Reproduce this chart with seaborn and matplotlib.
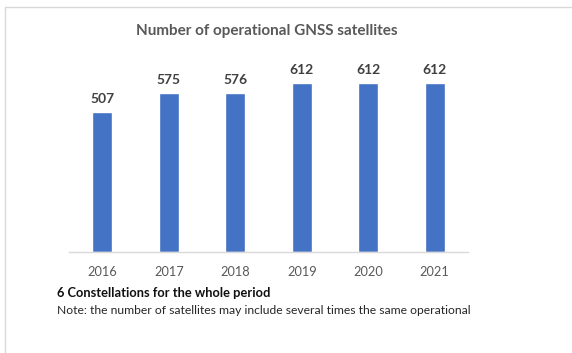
import matplotlib
matplotlib.use("Agg")
import matplotlib.pyplot as plt
from matplotlib.lines import Line2D
import pandas as pd
import seaborn as sns

# data
years = ["2016", "2017", "2018", "2019", "2020", "2021"]
satellites = [507, 575, 576, 612, 612, 612]

df = pd.DataFrame({"year": years, "satellites": satellites})

sns.set_theme(style="white")
plt.rcParams["font.family"] = ["Lato", "DejaVu Sans"]

W, H = 572, 353
fig = plt.figure(figsize=(W / 100, H / 100), dpi=100)
# axes in pixel terms: x 69..468, baseline at y=252
ax = fig.add_axes([69 / W, 1 - 252 / H, (468 - 69) / W, (252 - 40) / H])

sns.barplot(data=df, x="year", y="satellites", color="#4472C4",
            saturation=1, width=0.3, ax=ax)

ax.set_xlim(-0.5, 5.5)
ax.set_ylim(0, 612 * 212 / 169)
ax.set_xlabel("")
ax.set_ylabel("")
ax.set_yticks([])
sns.despine(ax=ax, left=True, top=True, right=True)
ax.spines["bottom"].set_color("#d9d9d9")
ax.spines["bottom"].set_linewidth(1)
ax.tick_params(axis="x", length=0, pad=10, labelsize=9.2, colors="#595959")

for i, v in enumerate(satellites):
    ax.annotate(str(v), (i, v), xytext=(0, 5), textcoords="offset points",
                ha="center", va="bottom", fontsize=10, fontweight="bold",
                color="#404040")

fig.text(267 / W, 1 - 31 / H, "Number of operational GNSS satellites",
         ha="center", va="center", fontsize=11, fontweight="bold",
         color="#595959")
fig.text(57 / W, 1 - 293 / H, "6 Constellations for the whole period",
         ha="left", va="center", fontsize=9.3, fontweight="bold",
         color="#111111")
fig.text(57 / W, 1 - 311 / H,
         "Note: the number of satellites may include several times the same operational",
         ha="left", va="center", fontsize=8.7, color="#262626")

# outer frame (only top and left edges visible)
fig.add_artist(Line2D([5 / W, 1], [1 - 7 / H, 1 - 7 / H], color="#d9d9d9", lw=1))
fig.add_artist(Line2D([5 / W, 5 / W], [1 - 7 / H, 0], color="#d9d9d9", lw=1))

fig.savefig("out.png", dpi=100, facecolor="white")
